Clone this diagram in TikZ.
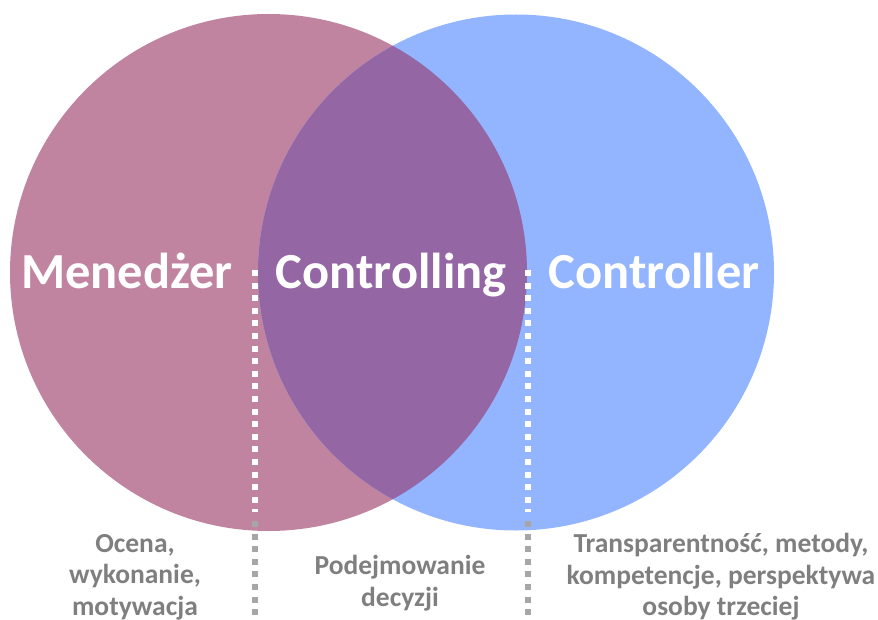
\documentclass[tikz,border=0pt]{standalone}
\usepackage{fontspec}
\setmainfont{Carlito}
\definecolor{pinkc}{HTML}{C084A0}
\definecolor{bluec}{HTML}{93B4FF}
\definecolor{overc}{HTML}{9466A3}
\definecolor{greyt}{HTML}{7F7F7F}
\definecolor{greyd}{HTML}{A6A6A6}
\begin{document}
\begin{tikzpicture}[x=1pt,y=-1pt,
  bigtxt/.style={text=white,font=\bfseries\fontsize{50.5}{55}\selectfont,inner sep=0pt,anchor=base},
  smalltxt/.style={text=greyt,font=\bfseries\fontsize{27.5}{31.5}\selectfont,align=center,inner sep=0pt},
  dotw/.style={white,line width=6pt,dash pattern=on 6pt off 6.6pt},
  dotg/.style={greyd,line width=6pt,dash pattern=on 6pt off 6.6pt}]
\useasboundingbox (0,0) rectangle (878,620);
\fill[pinkc] (268.5,272.5) circle[radius=258.5];
\fill[bluec] (516,272.5) circle[radius=258];
\begin{scope}
  \clip (268.5,272.5) circle[radius=258.5];
  \fill[overc] (516,272.5) circle[radius=258];
\end{scope}
\node[bigtxt] (men) at (127,289) {Menedżer};
\node[bigtxt] (ctl) at (391,289) {Controlling};
\node[bigtxt] (ctr) at (654,289) {Controller};
\coordinate (l1) at (255,270);
\coordinate (l2) at (255,512);
\coordinate (l3) at (255,521);
\coordinate (l4) at (255,618);
\coordinate (r1) at (528,270);
\coordinate (r2) at (528,512);
\coordinate (r3) at (528,521);
\coordinate (r4) at (528,618);
\draw[dotw] (l1) -- (l2);
\draw[dotg] (l3) -- (l4);
\draw[dotw] (r1) -- (r2);
\draw[dotg] (r3) -- (r4);
\node[smalltxt] (tl) at (135,577) {Ocena,\\wykonanie,\\motywacja};
\node[smalltxt] (tm) at (400,583) {Podejmowanie\\decyzji};
\node[smalltxt] (tr) at (721,577) {Transparentność, metody,\\kompetencje, perspektywa\\osoby trzeciej};
\end{tikzpicture}
\end{document}
